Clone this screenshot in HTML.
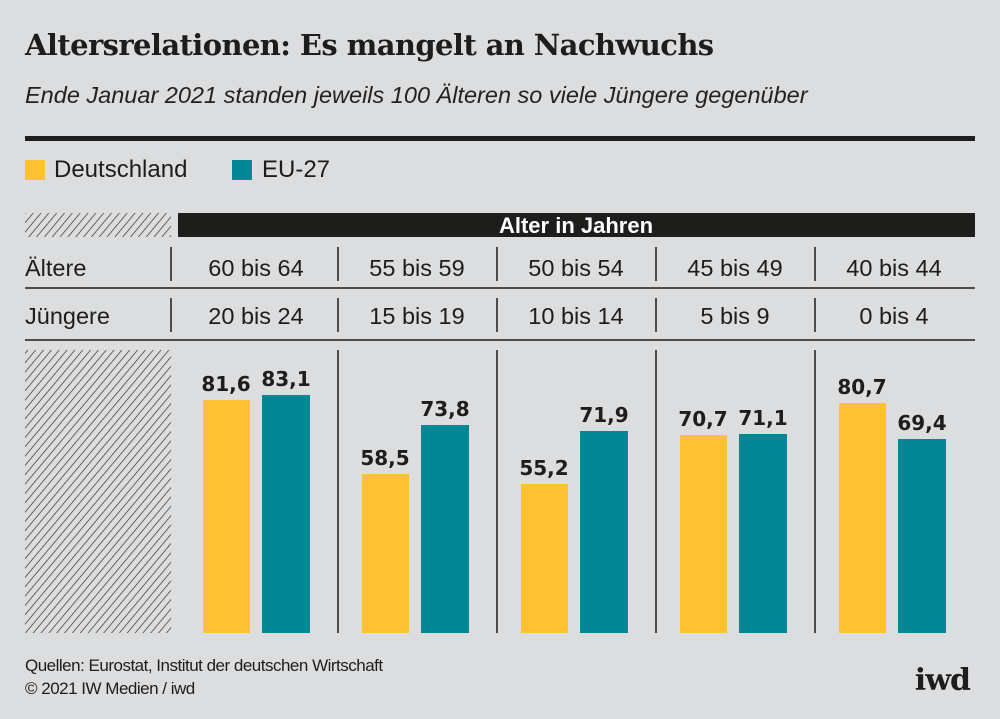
<!DOCTYPE html>
<html><head><meta charset="utf-8"><style>
body{margin:0;width:1000px;height:719px;background:#dcdddf;position:relative;overflow:hidden;font-family:"DejaVu Sans","Liberation Sans",sans-serif;color:#1d1d1b}
.a{position:absolute}
</style></head><body>
<div class="a" style="left:25px;top:28px;font:bold 29px 'DejaVu Serif','Liberation Serif',serif;letter-spacing:-0.6px">Altersrelationen: Es mangelt an Nachwuchs</div>
<div class="a" style="left:25px;top:82px;font:italic 23.5px 'Liberation Sans',sans-serif;color:#222">Ende Januar 2021 standen jeweils 100 Älteren so viele Jüngere gegenüber</div>
<div class="a" style="left:25px;top:136px;width:950px;height:5px;background:#1d1d1b"></div>
<div class="a" style="left:25px;top:160px;width:20px;height:20px;background:#fdc131"></div>
<div class="a" style="left:54px;top:156px;font:24px 'Liberation Sans',sans-serif">Deutschland</div>
<div class="a" style="left:232px;top:160px;width:20px;height:20px;background:#028794"></div>
<div class="a" style="left:262px;top:156px;font:24px 'Liberation Sans',sans-serif">EU-27</div>
<svg class="a" style="left:0;top:0" width="1000" height="719">
<defs><pattern id="h" width="6" height="6" patternUnits="userSpaceOnUse" patternTransform="rotate(40)"><line x1="0" y1="0" x2="0" y2="6" stroke="#222" stroke-width="1.3"/></pattern></defs>
<rect x="25" y="213" width="146" height="24" fill="url(#h)"/>
<rect x="25" y="350" width="146" height="283" fill="url(#h)"/>
<rect x="178" y="213" width="797" height="24" fill="#1d1d1b"/>
<text x="576" y="233" text-anchor="middle" fill="#fff" font-family="Liberation Sans" font-weight="bold" font-size="22">Alter in Jahren</text>
<g stroke="#1d1d1b" stroke-width="1.5">
<line x1="25" y1="288" x2="975" y2="288"/><line x1="25" y1="340" x2="975" y2="340"/>
<line x1="171" y1="247" x2="171" y2="281"/><line x1="171" y1="298" x2="171" y2="332"/>
<line x1="338" y1="247" x2="338" y2="281"/><line x1="338" y1="298" x2="338" y2="332"/><line x1="338" y1="350" x2="338" y2="633"/>
<line x1="497" y1="247" x2="497" y2="281"/><line x1="497" y1="298" x2="497" y2="332"/><line x1="497" y1="350" x2="497" y2="633"/>
<line x1="656" y1="247" x2="656" y2="281"/><line x1="656" y1="298" x2="656" y2="332"/><line x1="656" y1="350" x2="656" y2="633"/>
<line x1="815" y1="247" x2="815" y2="281"/><line x1="815" y1="298" x2="815" y2="332"/><line x1="815" y1="350" x2="815" y2="633"/>
</g>
<g font-family="Liberation Sans" font-size="23.5" fill="#1d1d1b">
<text x="25" y="276">Ältere</text><text x="25" y="324">Jüngere</text>
<g text-anchor="middle">
<text x="256" y="276">60 bis 64</text><text x="417" y="276">55 bis 59</text><text x="576" y="276">50 bis 54</text><text x="735" y="276">45 bis 49</text><text x="894" y="276">40 bis 44</text>
<text x="256" y="324">20 bis 24</text><text x="417" y="324">15 bis 19</text><text x="576" y="324">10 bis 14</text><text x="735" y="324">5 bis 9</text><text x="894" y="324">0 bis 4</text>
</g></g>
<g>
<rect x="203" y="400" width="47" height="233" fill="#fdc131"/><rect x="262" y="395" width="48" height="238" fill="#028794"/>
<rect x="362" y="474" width="47" height="159" fill="#fdc131"/><rect x="421" y="425" width="48" height="208" fill="#028794"/>
<rect x="521" y="484" width="47" height="149" fill="#fdc131"/><rect x="580" y="431" width="48" height="202" fill="#028794"/>
<rect x="680" y="435" width="47" height="198" fill="#fdc131"/><rect x="739" y="434" width="48" height="199" fill="#028794"/>
<rect x="839" y="403" width="47" height="230" fill="#fdc131"/><rect x="898" y="439" width="48" height="194" fill="#028794"/>
</g>
<g font-family="DejaVu Sans" font-weight="bold" font-size="20" fill="#1d1d1b" text-anchor="middle">
<text x="226" y="391">81,6</text><text x="286" y="386">83,1</text>
<text x="385" y="465">58,5</text><text x="445" y="416">73,8</text>
<text x="544" y="475">55,2</text><text x="604" y="422">71,9</text>
<text x="703" y="426">70,7</text><text x="763" y="425">71,1</text>
<text x="862" y="394">80,7</text><text x="922" y="430">69,4</text>
</g>
<text x="970" y="690" text-anchor="end" font-family="DejaVu Serif" font-weight="bold" font-size="30" letter-spacing="-1" fill="#1d1d1b">iwd</text>
</svg>
<div class="a" style="left:25px;top:656px;font:17px 'Liberation Sans',sans-serif;letter-spacing:-0.5px">Quellen: Eurostat, Institut der deutschen Wirtschaft</div>
<div class="a" style="left:25px;top:679px;font:17px 'Liberation Sans',sans-serif;letter-spacing:-0.5px">© 2021 IW Medien / iwd</div>
</body></html>
